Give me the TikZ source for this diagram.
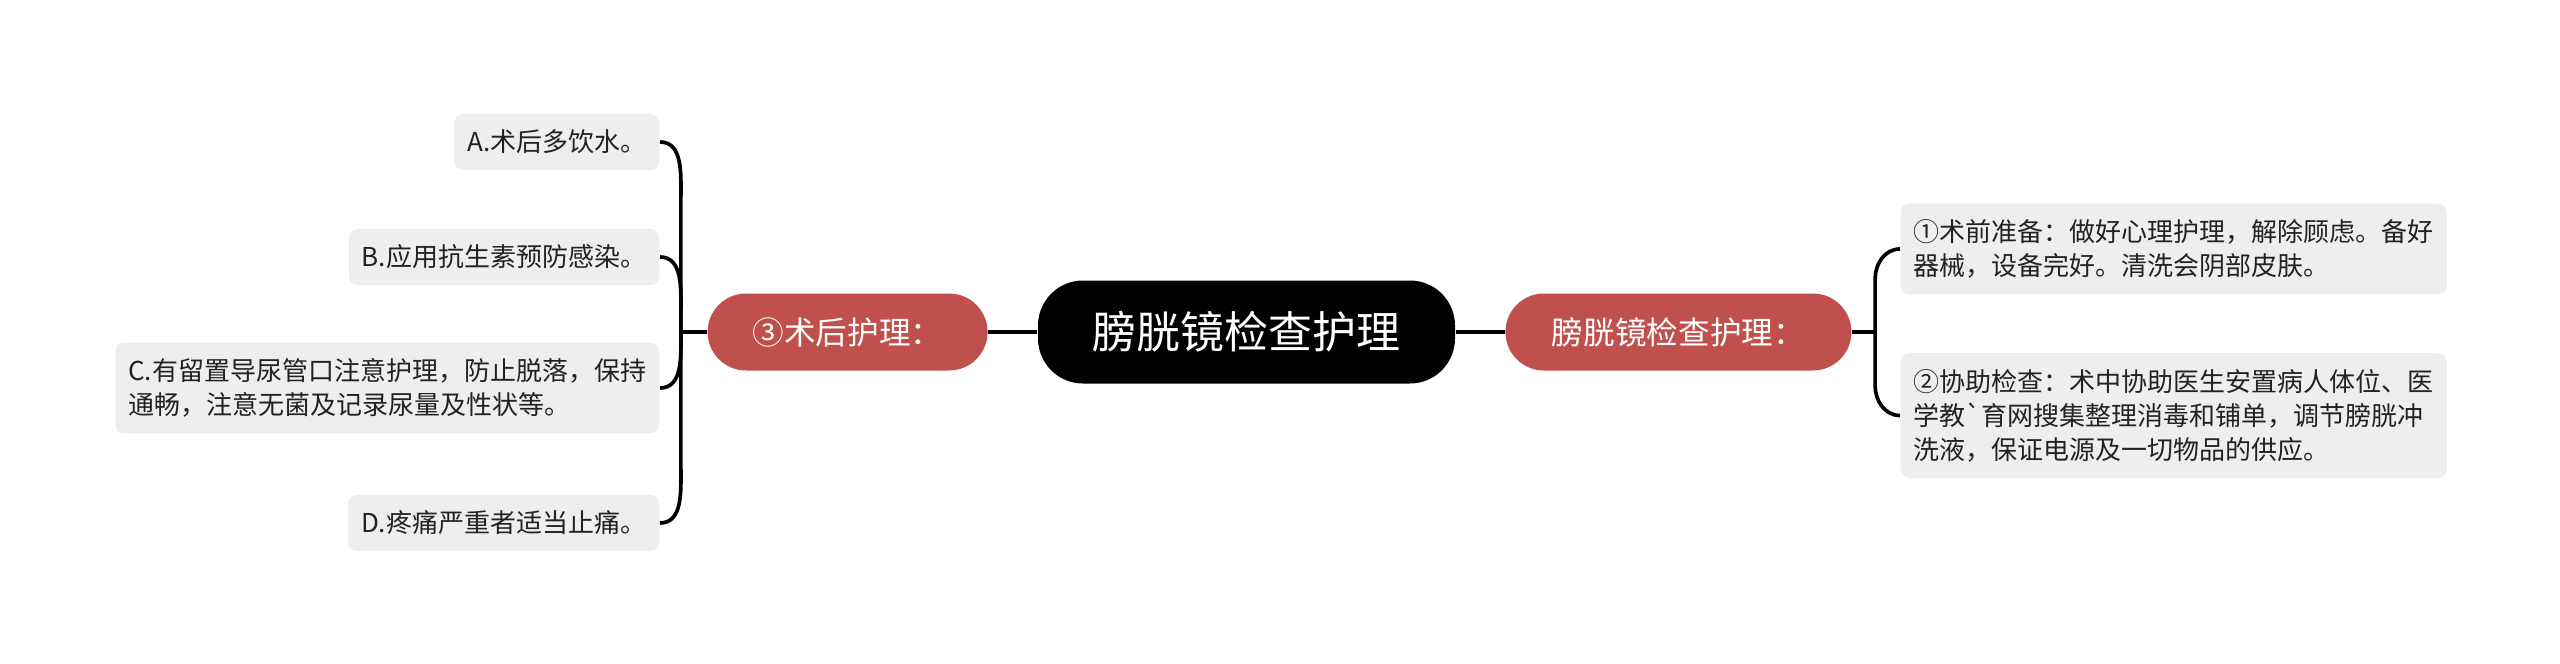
\documentclass[tikz,border=0pt]{standalone}
\usepackage{fontspec}
\setmainfont{Noto Sans CJK SC}[Ligatures=TeXOff]
\usepackage{tikz}
\usetikzlibrary{positioning, calc}
\definecolor{branchred}{HTML}{C0504D}
\definecolor{leafgray}{HTML}{EEEEEE}
\definecolor{leaftext}{HTML}{222222}

\begin{document}
\begin{tikzpicture}
    \tikzstyle{rootbox}=[rectangle, rounded corners=0.45cm, minimum width=4.17cm,
                         minimum height=1.03cm, fill=black, text=white,
                         font=\fontsize{12.5}{15}\selectfont]
    \tikzstyle{branch}=[rectangle, rounded corners=0.385cm, minimum height=0.77cm,
                        fill=branchred, text=white, font=\fontsize{9}{11}\selectfont]
    \tikzstyle{leaf}=[rectangle, rounded corners=0.09cm, fill=leafgray, text=leaftext,
                      align=left, inner xsep=0.13cm, inner ysep=0.16cm,
                      font=\fontsize{7.4}{9.7}\selectfont]
    \tikzstyle{link}=[black, line width=1.05pt]

    \useasboundingbox (0,0) rectangle (25.6,-6.64);

    \node[rootbox] (root) at (12.465,-3.32) {膀胱镜检查护理};
    \node[branch, minimum width=2.80cm, left=0.49cm of root]  (post) {③术后护理：};
    \node[branch, minimum width=3.46cm, right=0.49cm of root] (care) {膀胱镜检查护理：};

    % post-operative items
    \node[leaf, anchor=east] (pa) at (6.60,-1.42) {A.术后多饮水。};
    \node[leaf, anchor=east] (pb) at (6.60,-2.57) {B.应用抗生素预防感染。};
    \node[leaf, anchor=east] (pc) at (6.60,-3.88) {C.有留置导尿管口注意护理，防止脱落，保持\\通畅，注意无菌及记录尿量及性状等。};
    \node[leaf, anchor=east] (pd) at (6.60,-5.23) {D.疼痛严重者适当止痛。};

    % preparation and assistance
    \node[leaf, anchor=west] (qa) at (19.00,-2.49) {①术前准备：做好心理护理，解除顾虑。备好\\器械，设备完好。清洗会阴部皮肤。};
    \node[leaf, anchor=west] (qb) at (19.00,-4.155) {②协助检查：术中协助医生安置病人体位、医\\学教`育网搜集整理消毒和铺单，调节膀胱冲\\洗液，保证电源及一切物品的供应。};

    \coordinate[left=0.26cm of post]  (jl);
    \coordinate[right=0.23cm of care] (jr);

    \draw[link] (post) -- (root);
    \draw[link] (root) -- (care);
    \draw[link] (post) -- (jl);
    \draw[link] (care) -- (jr);

    \draw[link] (jl) -- ($(jl |- pa.east)+(0,-0.55)$) to[out=90, in=0] (pa.east);
    \draw[link] (jl) -- ($(jl |- pb.east)+(0,-0.55)$) to[out=90, in=0] (pb.east);
    \draw[link] (jl) -- ($(jl |- pc.east)+(0,0.55)$) to[out=-90, in=0] (pc.east);
    \draw[link] (jl) -- ($(jl |- pd.east)+(0,0.55)$) to[out=-90, in=0] (pd.east);

    \draw[link] (jr) -- ($(jr |- qa.west)+(0,-0.3)$) to[out=90, in=180] (qa.west);
    \draw[link] (jr) -- ($(jr |- qb.west)+(0,0.3)$) to[out=-90, in=180] (qb.west);
\end{tikzpicture}
\end{document}
